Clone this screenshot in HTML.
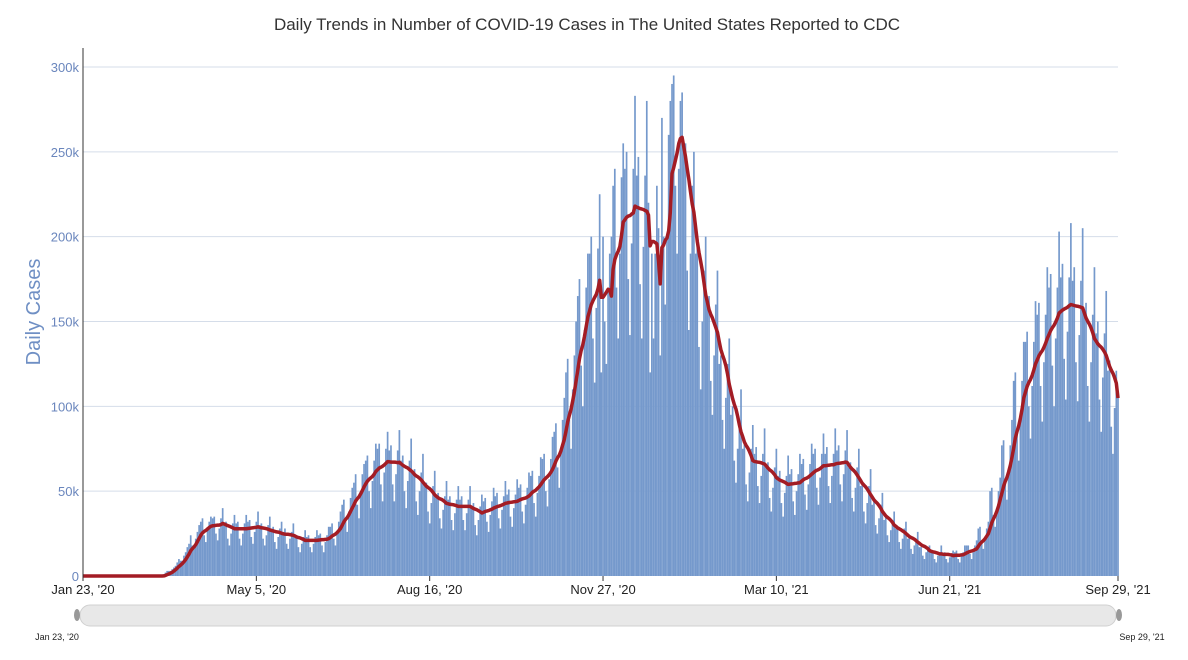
<!DOCTYPE html>
<html><head><meta charset="utf-8"><style>
body{margin:0;background:#fff;font-family:"Liberation Sans",sans-serif}
svg{display:block}
</style></head><body>
<svg id="chart" width="1188" height="660">
<text x="587" y="30" text-anchor="middle" font-size="17" fill="#333">Daily Trends in Number of COVID-19 Cases in The United States Reported to CDC</text>
<text transform="translate(40,312) rotate(-90)" text-anchor="middle" font-size="20" fill="#6f8fc4">Daily Cases</text>
<g id="grid"></g><g id="bars"></g><g id="line"></g><g id="axes"></g>
<g>
<rect x="80" y="605" width="1036" height="21" rx="10" fill="#e8e8e8" stroke="#d0d0d0"/>
<ellipse cx="77" cy="615" rx="3" ry="6" fill="#999"/>
<ellipse cx="1119" cy="615" rx="3" ry="6" fill="#999"/>
<text x="57" y="640" text-anchor="middle" font-size="9" fill="#222">Jan 23, '20</text>
<text x="1142" y="640" text-anchor="middle" font-size="9" fill="#222">Sep 29, '21</text>
</g>
</svg>
<script>
const yTicks=[0,50,100,150,200,250,300];
const yTickLabels=["0","50k","100k","150k","200k","250k","300k"];
const xTickDays=[0,103,206,309,412,515,615];
const xTickLabels=["Jan 23, '20","May 5, '20","Aug 16, '20","Nov 27, '20","Mar 10, '21","Jun 21, '21","Sep 29, '21"];
// daily cases in thousands, starting Jan 23 2020
const cases=[0,0,0,0,0,0,0, 0,0,0,0,0,0,0, 0,0,0,0,0,0,0, 0,0,0,0,0,0,0, 0,0,0,0,0,0,0, 0,0,0,0,0,0,0,
0,0,0,0,0,0.1,0.3, 2,3,3,3,4,5,6, 8,10,9,9,12,14,17, 19,24,18,16,22,26,30, 32,34,24,20,28,32,35,
34,35,25,21,28,34,40, 31,32,22,18,25,31,36, 31,32,22,18,25,31,36, 32,33,23,19,26,32,38, 30,31,22,18,24,30,35,
28,29,20,16,23,28,32, 26,28,19,16,22,26,31, 23,24,17,14,19,23,27, 23,24,17,14,19,23,27, 24,25,18,14,20,24,29,
29,31,22,18,26,32,38, 42,45,32,26,38,46,52, 55,60,42,34,50,60,66, 68,71,50,40,56,68,78, 75,78,54,44,61,75,85,
74,77,54,44,60,74,86, 68,71,50,40,56,68,81, 61,63,44,36,50,61,72, 53,55,38,31,43,53,62, 47,49,34,28,39,47,56,
45,47,33,27,37,45,53, 45,47,33,27,37,45,53, 41,43,30,24,33,41,48, 44,46,32,26,36,44,52, 47,49,34,28,39,47,56,
48,51,35,29,40,48,57, 52,54,38,31,42,52,61, 59,62,43,35,49,59,70, 69,72,50,41,57,69,82, 85,90,64,52,75,92,105,
120,128,92,75,110,130,150, 165,175,124,100,145,170,190, 190,200,140,114,158,193,225, 120,200,150,125,170,190,200,
230,240,170,140,190,235,255, 240,250,175,142,196,240,283, 236,247,172,140,194,236,280, 220,120,190,140,190,230,205,
130,270,200,160,200,260,280, 290,295,230,190,240,280,285, 250,255,180,145,190,230,250, 190,195,135,110,150,180,200,
160,165,115,95,130,160,180, 125,130,92,75,105,125,140, 95,100,68,55,75,92,110, 75,78,54,44,61,75,89,
72,76,53,43,59,72,87, 64,67,46,38,52,64,75, 59,62,43,35,49,59,71, 60,63,44,36,50,60,72, 66,69,48,39,54,66,78,
72,75,52,42,58,72,84, 72,76,53,43,59,72,87, 74,77,54,44,60,74,86, 64,67,46,38,52,64,75, 53,55,38,31,43,53,63,
42,44,30,25,34,42,49, 33,35,24,20,27,33,38, 28,29,20,16,22,28,32, 22,23,16,13,18,22,26, 17,17,12,10,14,17,18,
14,15,10,8,12,14,18, 13,14,10,8,11,13,15, 14,15,10,8,12,14,18, 18,18,13,10,14,18,21, 28,29,20,16,22,28,32,
50,52,36,29,40,50,58, 77,80,56,45,63,77,92, 115,120,84,68,95,115,138, 138,144,100,81,112,138,162, 154,161,112,91,126,154,182,
170,178,124,100,140,170,203, 176,184,128,104,144,176,208, 174,182,126,103,142,174,205, 154,161,112,91,126,154,182,
143,150,104,85,117,143,168, 121,127,88,72,99,121,106];
const NS='http://www.w3.org/2000/svg';
const X0=83,X1=1118,Y0=576,Y1=67;
const n=cases.length;
const xs=d=>X0+(X1-X0)*d/(n-1);
const ys=v=>Y0-(Y0-Y1)*v/300;
function mk(tag,attrs,parent){const e=document.createElementNS(NS,tag);for(const k in attrs)e.setAttribute(k,attrs[k]);parent.appendChild(e);return e;}
const grid=document.getElementById('grid'),axes=document.getElementById('axes');
yTicks.forEach((t,i)=>{
  if(t>0){const g=mk('line',{x1:X0,x2:X1,y1:ys(t),y2:ys(t),stroke:'#d5dde9','stroke-width':1},grid);
  
  }
  const lb=mk('text',{x:X0-4,y:ys(t)+5,'text-anchor':'end','font-size':13,fill:'#6a86bd'},axes);
  lb.textContent=yTickLabels[i];
  
  
});
const ax=mk('line',{x1:X0,x2:X0,y1:48,y2:Y0,stroke:'#333','stroke-width':1},axes);


xTickDays.forEach((d,i)=>{
  const tk=mk('line',{x1:xs(d),x2:xs(d),y1:Y0,y2:Y0+5,stroke:'#333'},axes);
  
  
  const lb=mk('text',{x:xs(d),y:Y0+18,'text-anchor':'middle','font-size':13,fill:'#222'},axes);
  lb.textContent=xTickLabels[i];
  
  
});
const bars=document.getElementById('bars');
const bw=(X1-X0)/(n-1);
cases.forEach((v,d)=>{
  if(v<=0)return;
  const b=mk('rect',{x:xs(d)-bw*0.5,y:ys(v),width:bw,height:Y0-ys(v),fill:'#7599cc'},bars);
  
  
});
const avg=cases.map((v,d)=>{let s=0,c=0;for(let k=Math.max(0,d-6);k<=d;k++){s+=cases[k];c++;}return s/c;});
const p=mk('path',{d:avg.map((v,d)=>(d?'L':'M')+xs(d).toFixed(1)+','+ys(v).toFixed(1)).join(''),fill:'none',stroke:'#a31c24','stroke-width':3.5,'stroke-linejoin':'round'},document.getElementById('line'));


</script>
</body></html>
